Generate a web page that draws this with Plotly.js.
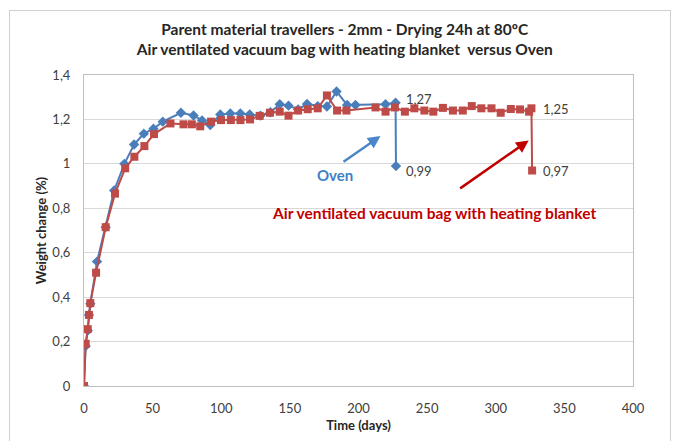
<!DOCTYPE html>
<html>
<head>
<meta charset="utf-8">
<script src="https://cdn.plot.ly/plotly-3.0.1.min.js"></script>
<style>
html,body{margin:0;padding:0;background:#fff;}
#wrap{position:relative;width:680px;height:441px;overflow:hidden;}
#frame{position:absolute;left:9px;top:10px;width:662px;height:440px;border:1px solid #d0d0d0;box-sizing:border-box;pointer-events:none;}
#chart{position:absolute;left:0;top:0;width:680px;height:441px;}
</style>
</head>
<body>
<div id="wrap"><div id="chart"></div><div id="frame"></div></div>
<script>
// Oven series
const ovenDays = [0,1.2,2.7,3.6,4.6,9.5,15.8,22,29.4,36.5,43.6,50.6,57.4,70.6,79.8,86,92,99.3,106.6,113.9,120.7,128.5,135.8,142.6,149,156,162.5,170.3,177,184,191.7,197.8,219.7,227,227.3];
const ovenValues = [0,0.18,0.25,0.32,0.37,0.56,0.715,0.88,1.0,1.087,1.136,1.158,1.19,1.23,1.218,1.195,1.175,1.222,1.227,1.227,1.222,1.217,1.232,1.268,1.262,1.245,1.27,1.26,1.258,1.326,1.265,1.265,1.268,1.275,0.99];
// Air ventilated vacuum bag series
const bagDays = [0,1.2,2.7,3.6,4.6,8.8,15.8,22.6,30,36.7,44,51,63,72.5,78.6,84.7,92.5,99.8,107,114,121,128,135.5,142.6,149,156,163,170.3,177,184.4,191.2,212.4,219.7,226.5,233.8,240.7,248,254.5,261.5,268.8,276,282.5,289.5,296.9,303.6,311,317.7,324.3,326,326.5];
const bagValues = [0,0.19,0.256,0.32,0.373,0.51,0.715,0.866,0.98,1.032,1.08,1.134,1.182,1.178,1.178,1.169,1.19,1.197,1.197,1.197,1.2,1.216,1.23,1.235,1.217,1.24,1.246,1.25,1.308,1.24,1.24,1.254,1.235,1.254,1.235,1.25,1.24,1.235,1.252,1.24,1.24,1.26,1.25,1.25,1.23,1.247,1.245,1.235,1.25,0.97];
const yTicks = [0,0.2,0.4,0.6,0.8,1,1.2,1.4];
const xTicks = [0,50,100,150,200,250,300,350,400];
const endLabels = [
  {x:233, y:1.29, text:'1,27'},
  {x:233, y:0.97, text:'0,99'},
  {x:333, y:1.248, text:'1,25'},
  {x:333, y:0.97, text:'0,97'}
];

const blue = '#4a7ebb', red = '#be4b48';
const F = 'Lato, "Open Sans", sans-serif';

const traces = [
  {x: ovenDays, y: ovenValues, type:'scatter', mode:'lines+markers', name:'Oven',
   line:{color:blue, width:2}, marker:{symbol:'diamond', size:8, color:blue}},
  {x: bagDays, y: bagValues, type:'scatter', mode:'lines+markers', name:'Air ventilated vacuum bag with heating blanket',
   line:{color:red, width:2}, marker:{symbol:'square', size:8, color:red}}
];

const annotations = endLabels.map(l => ({x:l.x, y:l.y, xref:'x', yref:'y', text:l.text, showarrow:false,
  xanchor:'left', yanchor:'middle', font:{family:F, size:13, color:'#404040'}}));
annotations.push({x:183, y:0.95, xref:'x', yref:'y', text:'<b>Oven</b>', showarrow:false,
  font:{family:F, size:15, color:'#3f7fc6'}});
annotations.push({x:216, y:1.125, ax:188, ay:1.005, xref:'x', yref:'y', axref:'x', ayref:'y', text:'',
  showarrow:true, arrowhead:2, arrowsize:1, arrowwidth:2.5, arrowcolor:'#4a86c8'});
annotations.push({x:255, y:0.777, xref:'x', yref:'y', text:'<b>Air ventilated vacuum bag with heating blanket</b>', showarrow:false,
  font:{family:F, size:15.5, color:'#c00000'}});
annotations.push({x:324, y:1.105, ax:273, ay:0.885, xref:'x', yref:'y', axref:'x', ayref:'y', text:'',
  showarrow:true, arrowhead:2, arrowsize:1, arrowwidth:2.5, arrowcolor:'#c00000'});

const layout = {
  width:680, height:441,
  margin:{l:84, r:47, t:75, b:55},
  paper_bgcolor:'#fff', plot_bgcolor:'#fff',
  separators:', ',
  showlegend:false,
  font:{family:F, color:'#404040', size:13},
  title:{text:'<b>Parent material travellers - 2mm - Drying 24h at 80ºC<br>Air ventilated vacuum bag with heating blanket  versus Oven</b>',
    x:0.507, xref:'container', xanchor:'center', y:0.92, yref:'container', yanchor:'top',
    font:{family:F, size:15.5, color:'#262626'}},
  xaxis:{range:[0,400], tickvals:xTicks, showgrid:false, zeroline:false,
    showline:true, linecolor:'#bfbfbf', linewidth:1, mirror:true,
    ticks:'', ticklabelstandoff:10, tickfont:{family:F, size:13, color:'#404040'},
    title:{text:'<b>Time (days)</b>', font:{family:F, size:13, color:'#262626'}, standoff:6}},
  yaxis:{range:[0,1.4], tickvals:yTicks, showgrid:true, gridcolor:'#d9d9d9', zeroline:false,
    showline:true, linecolor:'#bfbfbf', linewidth:1, mirror:true,
    ticks:'', ticklabelstandoff:10, tickfont:{family:F, size:13, color:'#404040'},
    title:{text:'<b>Weight change (%)</b>', font:{family:F, size:13, color:'#262626'}, standoff:2}},
  annotations: annotations
};

Plotly.newPlot('chart', traces, layout, {displayModeBar:false, staticPlot:true});
</script>
</body>
</html>
